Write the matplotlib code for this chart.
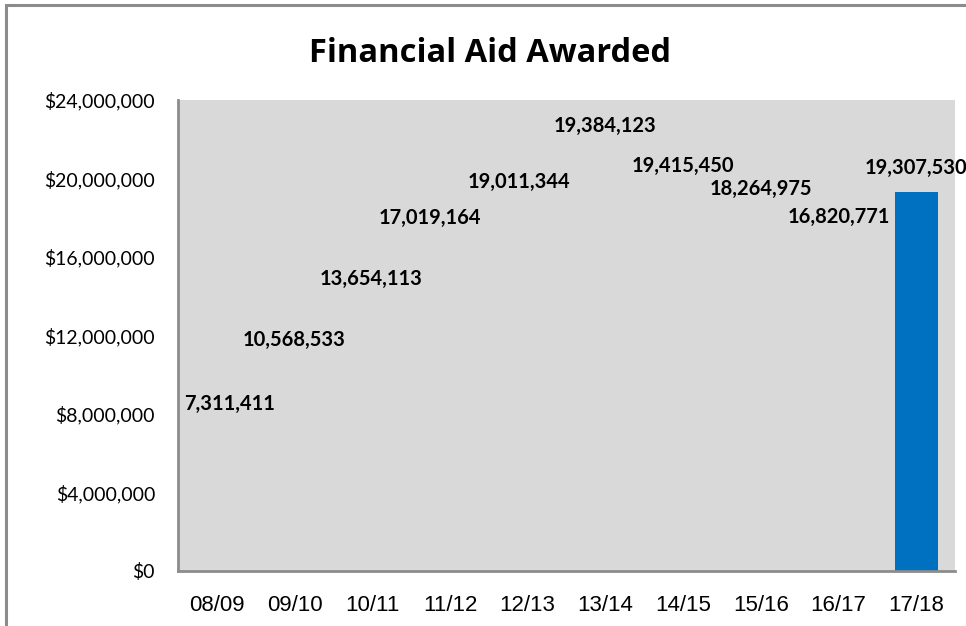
import matplotlib
matplotlib.use("Agg")
import matplotlib.pyplot as plt
from matplotlib.ticker import FuncFormatter, MultipleLocator
from matplotlib.patches import Rectangle

years = ["08/09", "09/10", "10/11", "11/12", "12/13", "13/14", "14/15", "15/16", "16/17", "17/18"]
awarded = [7311411, 10568533, 13654113, 17019164, 19011344, 19384123, 19415450, 18264975, 16820771, 19307530]
label_dx = [13, 0, -1, -20, -9, 0, 0, 0, 0, 0]
label_dy = [24, 24, 24, 19, 16, 65, 24, 24, 24, 24]

BG = "#D9D9D9"
fig = plt.figure(figsize=(9.66, 6.26), dpi=100)
ax = fig.add_axes([178/966, 55/626, 777/966, 471/626])
ax.set_facecolor(BG)

x = list(range(len(years)))
colors = [BG] * (len(years) - 1) + ["#0070C0"]
ax.bar(x, awarded, width=0.55, color=colors, zorder=2)

for i, v in enumerate(awarded):
    ax.annotate(f"{v:,}", (x[i], v), xytext=(label_dx[i], label_dy[i]),
                textcoords="offset pixels", ha="center", va="center",
                fontsize=14.5, fontweight="bold", family=["Lato", "DejaVu Sans"],
                color="#000000", zorder=3)

ax.set_xlim(-0.5, len(years) - 0.5)
ax.set_ylim(0, 24000000)
ax.yaxis.set_major_locator(MultipleLocator(4000000))
ax.yaxis.set_major_formatter(FuncFormatter(lambda v, p: f"${v:,.0f}"))
ax.set_xticks(x)
ax.set_xticklabels(years, family=["Liberation Sans", "DejaVu Sans"], fontsize=16)
for lab in ax.get_yticklabels():
    lab.set_family(["Lato", "DejaVu Sans"])
    lab.set_fontsize(14)
ax.tick_params(axis="both", length=0, colors="#000000")
ax.tick_params(axis="y", pad=16.5)
ax.tick_params(axis="x", pad=17)

for s in ["top", "right"]:
    ax.spines[s].set_visible(False)
for s in ["left", "bottom"]:
    ax.spines[s].set_color("#8C8C8C")
    ax.spines[s].set_linewidth(2)

fig.text(490/966, 1 - 53/626, "Financial Aid Awarded", ha="center", va="center",
         fontsize=23.5, fontweight="bold", family=["Open Sans", "DejaVu Sans"])

# outer chart frame
fig.patches.append(Rectangle((6/966, -0.05), 1.2, 1 - 5/626 + 0.05, transform=fig.transFigure,
                             fill=False, edgecolor="#8C8C8C", linewidth=2.2))

fig.savefig("out.png", dpi=100)
